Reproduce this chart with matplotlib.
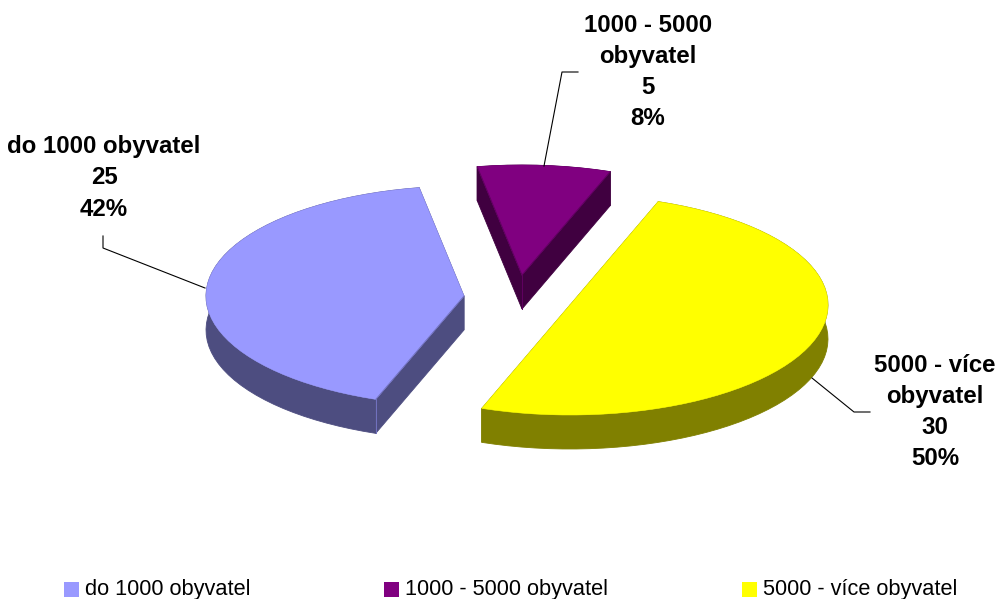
import numpy as np
import matplotlib
matplotlib.use("Agg")
import matplotlib.pyplot as plt
from matplotlib.patches import Polygon, Rectangle
from matplotlib.colors import to_rgb

plt.rcParams.update({
    "font.family": ["Liberation Sans", "DejaVu Sans"],
    "font.size": 14,
})

categories = ["do 1000 obyvatel", "1000 - 5000 obyvatel", "5000 - více obyvatel"]
values = [25, 5, 30]
label_names = ["do 1000 obyvatel", "1000 - 5000\nobyvatel", "5000 - více\nobyvatel"]

top_colors = ["#9999FF", "#800080", "#FFFF00"]
side_colors = ["#4D4D80", "#400040", "#808000"]

# exploded slice apexes, in pixels of the 999x599 canvas
centers = [(464, 296), (522, 275), (570, 305)]
label_pos = [(104, 178), (648, 72), (935, 412)]
leaders = [
    [(205, 288), (103, 248), (103, 236)],
    [(544, 166), (562, 72), (578, 72)],
    [(812, 378), (854, 412), (870, 412)],
]
legend_x = [64, 384, 742]

RX, RY = 258, 110
DEPTH = 34
START_ANGLE = 250


def blend(c1, c2, t):
    a, b = np.array(to_rgb(c1)), np.array(to_rgb(c2))
    return tuple(a + (b - a) * t)


def main():
    fig = plt.figure(figsize=(9.99, 5.99), dpi=100)
    ax = fig.add_axes([0, 0, 1, 1])
    ax.set_xlim(0, 999)
    ax.set_ylim(599, 0)
    ax.axis("off")

    total = sum(values)
    angle = START_ANGLE
    for i, v in enumerate(values):
        start, end = angle, angle - v / total * 360
        angle = end
        cx, cy = centers[i]
        t = np.radians(np.linspace(start, end, max(int((start - end) / 3), 4)))
        arc_x = cx + RX * np.cos(t)
        arc_y = cy - RY * np.sin(t)

        # walls first, the top face hides whatever faces backwards
        arc = np.column_stack([arc_x, arc_y])
        apex = np.array([cx, cy], dtype=float)
        down = np.array([0, DEPTH])
        walls = [
            np.vstack([arc, arc[::-1] + down]),
            np.array([apex, arc[0], arc[0] + down, apex + down]),
            np.array([apex, arc[-1], arc[-1] + down, apex + down]),
        ]
        for wall in walls:
            ax.add_patch(Polygon(wall, fc=side_colors[i], ec=side_colors[i], lw=0.6))
        top = np.vstack([apex, arc])
        ax.add_patch(Polygon(top, fc=top_colors[i], ec=top_colors[i], lw=0.4))

        # thin light ridges along the visible cut faces
        ridge = blend(side_colors[i], top_colors[i], 0.5)
        start_seen = np.cos(t[0]) < 0
        end_seen = np.cos(t[-1]) > 0
        if start_seen:
            ax.plot([cx, arc_x[0]], [cy, arc_y[0]], color=ridge, lw=0.7)
            if np.sin(t[0]) < 0:
                ax.plot([arc_x[0]] * 2, [arc_y[0], arc_y[0] + DEPTH], color=ridge, lw=0.7)
        if end_seen:
            ax.plot([cx, arc_x[-1]], [cy, arc_y[-1]], color=ridge, lw=0.7)
        if start_seen and end_seen:
            ax.plot([cx, cx], [cy, cy + DEPTH], color=ridge, lw=0.7)

        xs, ys = zip(*leaders[i])
        ax.plot(xs, ys, color="black", lw=0.8)

        pct = round(v / total * 100)
        ax.text(*label_pos[i], f"{label_names[i]}\n{v}\n{pct}%",
                ha="center", va="center", ma="center",
                fontsize=17.3, fontweight="bold", linespacing=1.45)

        # legend
        ax.add_patch(Rectangle((legend_x[i], 582), 15, 15, fc=top_colors[i], ec="none"))
        ax.text(legend_x[i] + 21, 589, categories[i], ha="left", va="center", fontsize=15.7)

    fig.savefig("out.png", dpi=100)


if __name__ == "__main__":
    main()
